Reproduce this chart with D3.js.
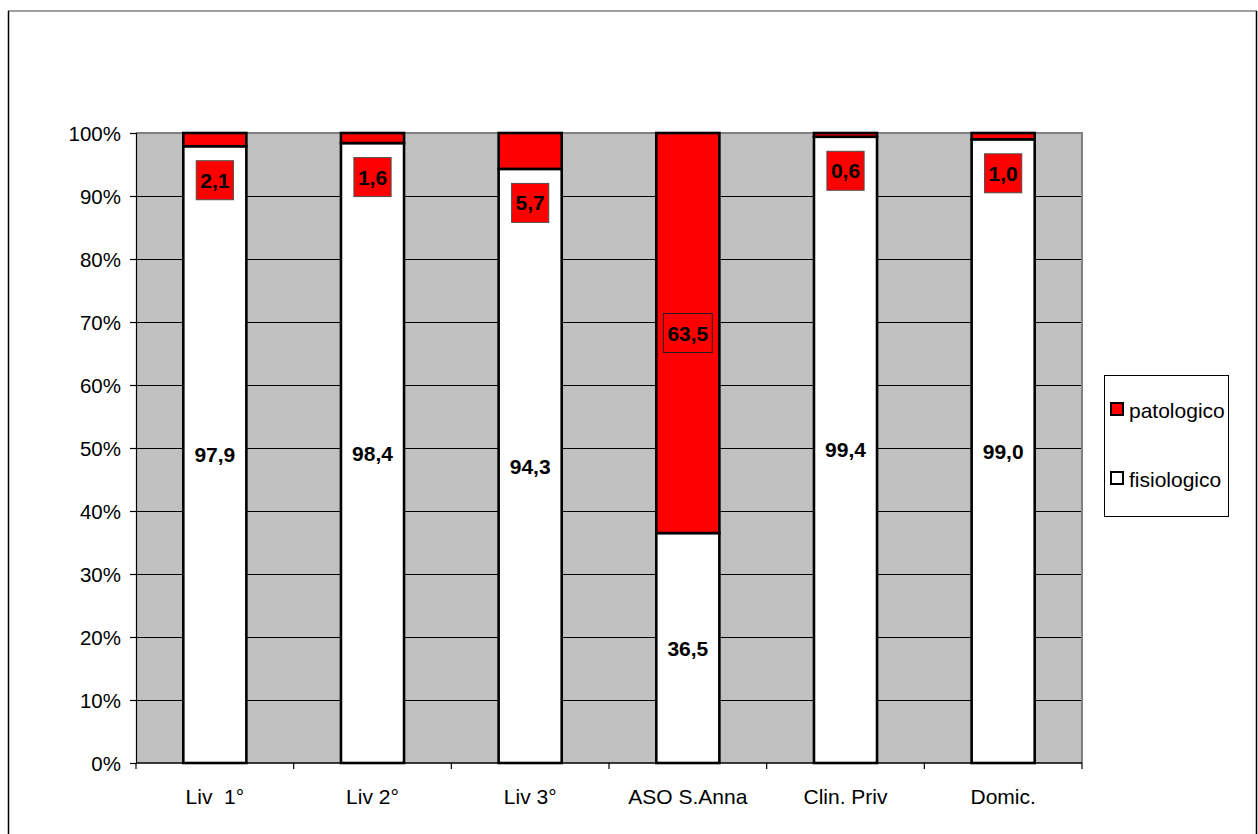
<!DOCTYPE html>
<html>
<head>
<meta charset="utf-8">
<script src="https://cdn.jsdelivr.net/npm/d3@7"></script>
<style>
  html, body { margin: 0; padding: 0; background: #fff; }
  svg { display: block; font-family: "Liberation Sans", Arial, sans-serif; }
</style>
</head>
<body>
<svg id="chart" width="1258" height="834"></svg>
<script>
// Births by facility: physiological vs pathological share (%)
const categories = ["Liv  1°", "Liv 2°", "Liv 3°", "ASO S.Anna", "Clin. Priv", "Domic."];
const fisiologico = [97.9, 98.4, 94.3, 36.5, 99.4, 99.0];
const patologico  = [2.1, 1.6, 5.7, 63.5, 0.6, 1.0];
const yTicks = [0, 10, 20, 30, 40, 50, 60, 70, 80, 90, 100];
const seriesNames = ["patologico", "fisiologico"];

const svg = d3.select("#chart");

// outer chart frame
svg.append("line").attr("x1", 8).attr("y1", 11).attr("x2", 1257).attr("y2", 11)
  .attr("stroke", "#808080").attr("stroke-width", 1.5);
svg.append("line").attr("x1", 8.5).attr("y1", 11).attr("x2", 8.5).attr("y2", 834)
  .attr("stroke", "#000").attr("stroke-width", 1.5);
svg.append("line").attr("x1", 1256.5).attr("y1", 11).attr("x2", 1256.5).attr("y2", 834)
  .attr("stroke", "#000").attr("stroke-width", 1.5);

const plot = { left: 136, right: 1082, top: 133, bottom: 763 };

const x = d3.scaleBand().domain(categories).range([plot.left, plot.right]).padding(0);
const y = d3.scaleLinear().domain([0, 100]).range([plot.bottom, plot.top]);
const barW = x.bandwidth() * 0.4;

const it = d3.formatLocale({ decimal: ",", thousands: ".", grouping: [3], currency: ["€", ""] });
const fmt = it.format(".1f");

// plot area background
svg.append("rect")
  .attr("x", plot.left).attr("y", plot.top)
  .attr("width", plot.right - plot.left).attr("height", plot.bottom - plot.top)
  .attr("fill", "#c0c0c0");

// horizontal gridlines
svg.append("g").selectAll("line")
  .data(yTicks.filter(t => t > 0 && t < 100))
  .join("line")
  .attr("x1", plot.left).attr("x2", plot.right)
  .attr("y1", d => Math.round(y(d)) + 0.5).attr("y2", d => Math.round(y(d)) + 0.5)
  .attr("stroke", "#000").attr("stroke-width", 1);

// plot area border (top and right)
svg.append("path")
  .attr("d", `M${plot.left},${plot.top}H${plot.right}V${plot.bottom}`)
  .attr("fill", "none").attr("stroke", "#808080").attr("stroke-width", 2);

// stacked bars
const data = categories.map((c, i) => ({ cat: c, fis: fisiologico[i], pat: patologico[i] }));
const bars = svg.append("g");
data.forEach(d => {
  const bx = x(d.cat) + (x.bandwidth() - barW) / 2;
  bars.append("rect")
    .attr("x", bx).attr("y", y(d.fis))
    .attr("width", barW).attr("height", y(0) - y(d.fis))
    .attr("fill", "#fff").attr("stroke", "#000").attr("stroke-width", 2.6);
  bars.append("rect")
    .attr("x", bx).attr("y", y(d.fis + d.pat))
    .attr("width", barW).attr("height", y(d.fis) - y(d.fis + d.pat))
    .attr("fill", "#ff0000").attr("stroke", "#000").attr("stroke-width", 2.6);
});

// y axis
const yAxis = d3.axisLeft(y).tickValues(yTicks).tickFormat(d => d + "%").tickSize(6).tickPadding(9);
const gy = svg.append("g").attr("transform", `translate(${plot.left},0)`).call(yAxis);
gy.select(".domain").attr("stroke", "#000").attr("stroke-width", 1.2);
gy.selectAll(".tick line").attr("stroke", "#000").attr("stroke-width", 1.2);
gy.selectAll(".tick text").attr("font-size", 20.5).attr("fill", "#000")
  .attr("font-family", "'Liberation Sans', Arial, sans-serif").attr("dy", "0.36em");

// x axis with ticks on band boundaries
svg.append("line").attr("x1", plot.left).attr("x2", plot.right)
  .attr("y1", plot.bottom).attr("y2", plot.bottom)
  .attr("stroke", "#000").attr("stroke-width", 1.5);
const boundaries = categories.map(c => x(c)).concat([plot.right]);
svg.append("g").selectAll("line").data(boundaries).join("line")
  .attr("x1", d => d).attr("x2", d => d)
  .attr("y1", plot.bottom).attr("y2", plot.bottom + 6)
  .attr("stroke", "#000").attr("stroke-width", 1.2);
svg.append("g").selectAll("text").data(categories).join("text")
  .attr("x", d => x(d) + x.bandwidth() / 2)
  .attr("y", 804)
  .attr("text-anchor", "middle")
  .attr("font-size", 21)
  .style("white-space", "pre")
  .attr("fill", "#000")
  .text(d => d);

// value labels: fisiologico centred in its segment
const labels = svg.append("g").attr("font-weight", "bold").attr("font-size", 21);
data.forEach(d => {
  labels.append("text")
    .attr("x", x(d.cat) + x.bandwidth() / 2)
    .attr("y", y(d.fis / 2))
    .attr("dy", "0.36em")
    .attr("text-anchor", "middle")
    .text(fmt(d.fis));
});

// value labels: patologico in red boxes
data.forEach(d => {
  const cx = x(d.cat) + x.bandwidth() / 2;
  const segH = y(d.fis) - y(d.fis + d.pat);
  const cy = segH > 60 ? y(d.fis + d.pat / 2) : y(d.fis) + 34;
  const g = labels.append("g");
  const t = g.append("text")
    .attr("x", cx).attr("y", cy).attr("dy", "0.36em")
    .attr("text-anchor", "middle")
    .text(fmt(d.pat));
  const w = t.node().getComputedTextLength() + 8;
  const h = 39;
  g.insert("rect", "text")
    .attr("x", cx - w / 2).attr("y", cy - h / 2)
    .attr("width", w).attr("height", h)
    .attr("fill", "#ff0000")
    .attr("stroke", segH > 60 ? "#202020" : "#505050")
    .attr("stroke-width", 1);
});

// legend
const legend = svg.append("g");
legend.append("rect").attr("x", 1104.5).attr("y", 375.5).attr("width", 124).attr("height", 141)
  .attr("fill", "#fff").attr("stroke", "#000").attr("stroke-width", 1);
const legendFill = { patologico: "#ff0000", fisiologico: "#fff" };
const legendY = { patologico: 418, fisiologico: 487 };
seriesNames.forEach(s => {
  legend.append("rect")
    .attr("x", 1111).attr("y", legendY[s] - 15)
    .attr("width", 12).attr("height", 12)
    .attr("fill", legendFill[s]).attr("stroke", "#000").attr("stroke-width", 2);
  legend.append("text")
    .attr("x", 1129).attr("y", legendY[s])
    .attr("font-size", 21).attr("fill", "#000")
    .text(s);
});
</script>
</body>
</html>
